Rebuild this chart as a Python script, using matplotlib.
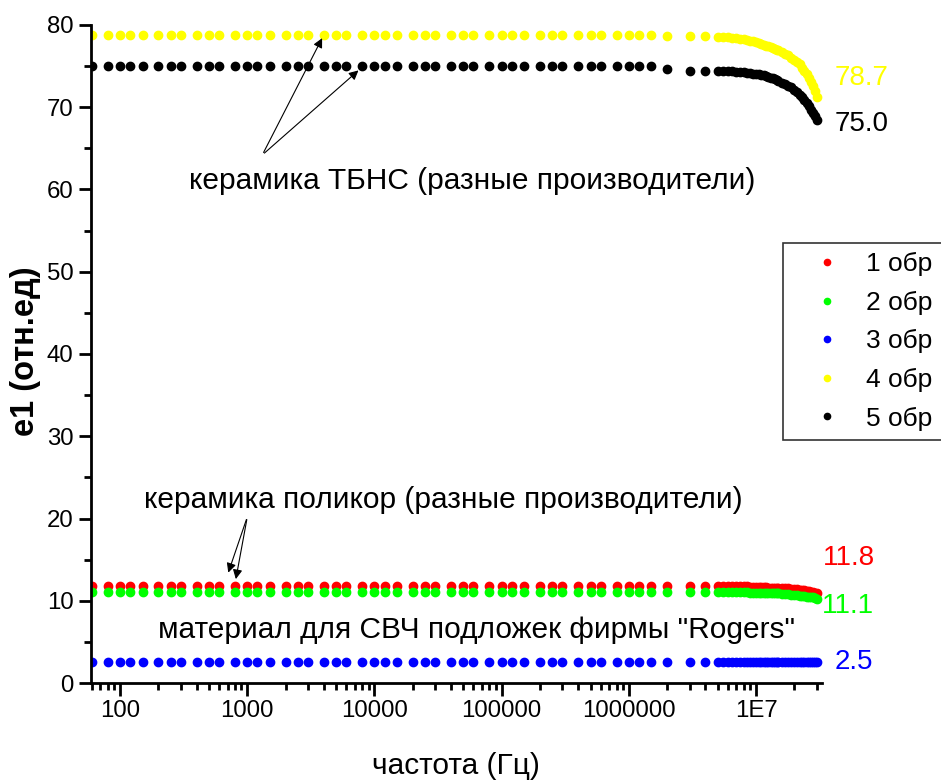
import matplotlib
matplotlib.use('Agg')
import matplotlib.pyplot as plt
from matplotlib.ticker import FixedLocator, FixedFormatter, LogLocator, NullFormatter

plt.rcParams['font.family'] = ['Liberation Sans', 'DejaVu Sans']

# частоты, Гц (плоская часть + плотная часть в конце)
freq_flat = [60, 80,
             100, 120, 150, 200, 250, 300, 400, 500, 600, 800,
             1e3, 1.2e3, 1.5e3, 2e3, 2.5e3, 3e3, 4e3, 5e3, 6e3, 8e3,
             1e4, 1.2e4, 1.5e4, 2e4, 2.5e4, 3e4, 4e4, 5e4, 6e4, 8e4,
             1e5, 1.2e5, 1.5e5, 2e5, 2.5e5, 3e5, 4e5, 5e5, 6e5, 8e5,
             1e6, 1.2e6, 1.5e6, 2e6, 3e6, 4e6]
freq_tail_MHz = [5, 5.5, 6, 6.5, 7, 7.5, 8, 8.5, 9, 9.5, 10, 10.5, 11, 11.5, 12,
                 12.5, 13, 13.5, 14, 14.5, 15, 16, 17, 18, 19, 20, 21, 22, 23,
                 24, 25, 26, 27, 28, 29, 30]
freq = freq_flat + [f * 1e6 for f in freq_tail_MHz]

# e1 по образцам
n_flat = len(freq_flat)
e1_1 = [11.8] * n_flat + [11.8, 11.8, 11.8, 11.8, 11.8, 11.8, 11.8, 11.8, 11.7, 11.7,
                          11.7, 11.7, 11.7, 11.7, 11.7, 11.6, 11.6, 11.6, 11.6, 11.6,
                          11.6, 11.5, 11.5, 11.5, 11.4, 11.4, 11.4, 11.3, 11.3, 11.3,
                          11.2, 11.2, 11.1, 11.1, 11.0, 10.9]
e1_2 = [11.1] * n_flat + [11.1, 11.1, 11.1, 11.1, 11.1, 11.1, 11.1, 11.1, 11.0, 11.0,
                          11.0, 11.0, 11.0, 11.0, 11.0, 10.9, 10.9, 10.9, 10.9, 10.9,
                          10.9, 10.8, 10.8, 10.8, 10.7, 10.7, 10.7, 10.6, 10.6, 10.6,
                          10.5, 10.5, 10.4, 10.4, 10.3, 10.2]
e1_3 = [2.5] * (n_flat + len(freq_tail_MHz))
e1_4 = [78.8] * (n_flat - 3) + [78.6, 78.6, 78.6] + \
       [78.5, 78.5, 78.5, 78.4, 78.4, 78.3, 78.3, 78.2, 78.1, 78.0,
        77.9, 77.8, 77.7, 77.6, 77.5, 77.4, 77.3, 77.2, 77.1, 77.0,
        76.9, 76.7, 76.5, 76.3, 76.0, 75.8, 75.5, 75.2, 74.8, 74.4,
        74.0, 73.6, 73.1, 72.6, 72.0, 71.3]
e1_5 = [75.0] * (n_flat - 3) + [74.6, 74.4, 74.4] + \
       [74.4, 74.4, 74.4, 74.4, 74.3, 74.3, 74.3, 74.2, 74.2, 74.1,
        74.1, 74.0, 73.9, 73.9, 73.8, 73.7, 73.6, 73.5, 73.4, 73.3,
        73.2, 73.0, 72.8, 72.6, 72.4, 72.1, 71.8, 71.5, 71.2, 70.9,
        70.5, 70.1, 69.7, 69.3, 68.9, 68.5]

series = [e1_1, e1_2, e1_3, e1_4, e1_5]
labels = ['1 обр', '2 обр', '3 обр', '4 обр', '5 обр']
colors = ['#ff0000', '#00ff00', '#0000ff', '#ffff00', '#000000']

end_values = ['11.8', '11.1', '2.5', '78.7', '75.0']

xticks = [100, 1000, 10000, 100000, 1000000, 10000000]
xtick_labels = ['100', '1000', '10000', '100000', '1000000', '1E7']

fig = plt.figure(figsize=(9.41, 7.83), dpi=100)
ax = fig.add_axes([0.0967, 0.1277, 0.7768, 0.8404])

for y, lab, c in zip(series, labels, colors):
    ax.plot(freq, y, ls='none', marker='o', ms=6, color=c, mec=c, label=lab)

ax.set_xscale('log')
ax.set_xlim(59, 3.3e7)
ax.set_ylim(0, 80)

ax.xaxis.set_major_locator(FixedLocator(xticks))
ax.xaxis.set_major_formatter(FixedFormatter(xtick_labels))
ax.xaxis.set_minor_locator(LogLocator(base=10, subs=range(2, 10), numticks=20))
ax.xaxis.set_minor_formatter(NullFormatter())
ax.set_yticks(range(0, 81, 10))
ax.set_yticks(range(5, 80, 10), minor=True)

for s in ['top', 'right']:
    ax.spines[s].set_visible(False)
for s in ['left', 'bottom']:
    ax.spines[s].set_linewidth(2)
ax.tick_params(which='major', length=9, width=2, labelsize=17.3, direction='out')
ax.tick_params(which='minor', length=5, width=2, direction='out')

# подписи осей
fig.text(456 / 941, 1 - 766 / 783, 'частота (Гц)', fontsize=21.5, ha='center', va='center')
fig.text(25.5 / 941, 1 - 351 / 783, 'e1 (отн.ед)', fontsize=23.5, fontweight='bold',
         rotation=90, ha='center', va='center')

# подписи
arr = dict(arrowstyle='-|>', lw=0.8, color='black', mutation_scale=14)
ax.annotate('', xy=(3966, 78.7), xytext=(1312, 64.2), arrowprops=arr)
ax.annotate('', xy=(7770, 74.7), xytext=(1312, 64.2), arrowprops=arr)
ax.text(58900, 61.0, 'керамика ТБНС (разные производители)', fontsize=21.5,
        ha='center', va='center')

ax.annotate('', xy=(697, 13.1), xytext=(1000, 20.2), arrowprops=arr)
ax.annotate('', xy=(805, 12.3), xytext=(1000, 20.2), arrowprops=arr)
ax.text(34900, 22.3, 'керамика поликор (разные производители)', fontsize=21.5,
        ha='center', va='center')
ax.text(63500, 6.5, 'материал для СВЧ подложек фирмы "Rogers"', fontsize=21.5,
        ha='center', va='center')

# значения справа
val_pos = [(823, 558), (822, 606), (835, 662), (835, 78), (835, 124)]
for v, c, (px, py) in zip(end_values, colors, val_pos):
    fig.text(px / 941, 1 - py / 783, v, color=c, fontsize=20, ha='left', va='center')

leg = fig.legend(loc='upper left', bbox_to_anchor=(783 / 941, 1 - 243 / 783),
                 fontsize=19, markerscale=0.75, frameon=True, fancybox=False,
                 edgecolor='black', handlelength=2.6, handletextpad=0.2,
                 labelspacing=0.55, borderpad=0.35, borderaxespad=0)
leg.get_frame().set_linewidth(1.2)

fig.savefig('out.png', dpi=100)
